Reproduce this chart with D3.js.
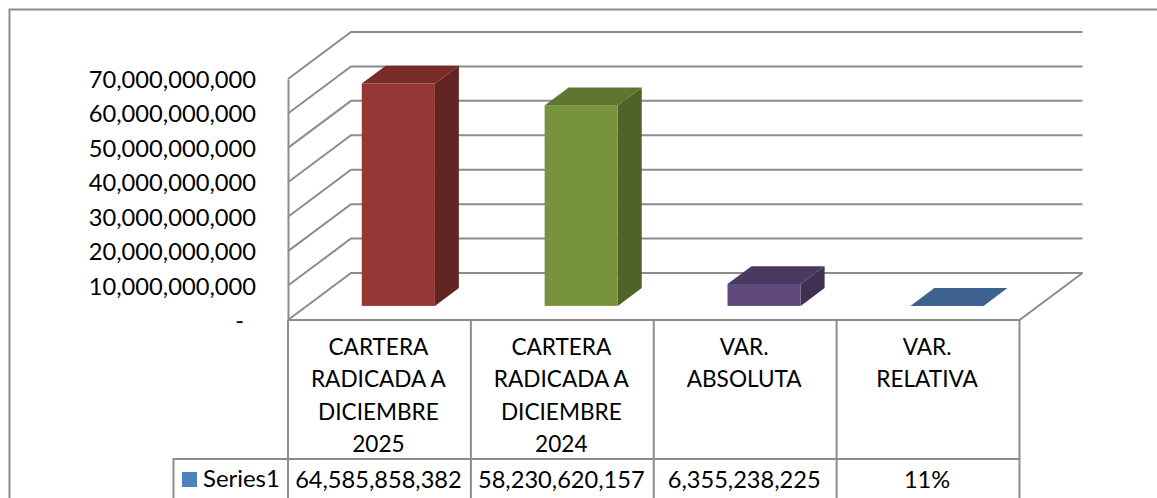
<!DOCTYPE html>
<html>
<head>
<meta charset="utf-8">
<title>Cartera radicada</title>
<script src="https://cdn.jsdelivr.net/npm/d3@7"></script>
<style>
    html, body { margin: 0; padding: 0; background: #fff; overflow: hidden; }
    text { font-family: Lato, "Open Sans", sans-serif; fill: #000; }
    .line { stroke: #8c8c8c; stroke-width: 2; fill: none; }
</style>
</head>
<body>
<div id="chart"></div>
<script>
var categories = [
    ["CARTERA", "RADICADA A", "DICIEMBRE", "2025"],
    ["CARTERA", "RADICADA A", "DICIEMBRE", "2024"],
    ["VAR.", "ABSOLUTA"],
    ["VAR.", "RELATIVA"]
];
var seriesName = "Series1";
var seriesValues = [64585858382, 58230620157, 6355238225, 0.11];
var valueLabels = ["64,585,858,382", "58,230,620,157", "6,355,238,225", "11%"];
var tickValues = [0, 10000000000, 20000000000, 30000000000, 40000000000, 50000000000, 60000000000, 70000000000];
var frontColors = ["#953735", "#77933c", "#604a7b", "#376092"];
var topColors = ["#772c2a", "#5f7530", "#4a3a60", "#3d6290"];
var sideColors = ["#632523", "#4f6228", "#403152", "#2c4d75"];

var width = 1157, height = 498;
var left = 288, right = 1019.5, base = 320, top70 = 79;

// the oblique depth of the 3D box, and where the bars sit inside it
var depth = { x: 63, y: -47 };
var barFront = 0.3, barBack = 0.68;

var svg = d3.select("#chart")
    .append("svg")
    .attr("width", width)
    .attr("height", height)
    .style("display", "block");

var x = d3.scaleBand()
    .domain(d3.range(categories.length))
    .range([left, right])
    .paddingInner(0.6)
    .paddingOuter(0.3);

var y = d3.scaleLinear()
    .domain([0, 70000000000])
    .range([base, top70]);

var step = x.step();
var edges = d3.range(categories.length + 1).map(function (i) { return left + i * step; });

function pts(list) {
    return list.map(function (p) { return p.join(","); }).join(" ");
}

// outer frame, runs off the right and bottom of the picture
svg.append("path")
    .attr("class", "line")
    .attr("d", "M9.5," + height + "V9.5H" + width);

/////////////////////////////////////////////////////////////////////
// walls and floor

var grid = svg.append("g");

// left wall diagonals + back wall horizontals
grid.selectAll(".wall")
    .data(tickValues)
    .enter()
    .append("path")
    .attr("class", "line wall")
    .attr("d", function (d) {
        return "M" + left + "," + y(d) + "L" + (left + depth.x) + "," + (y(d) + depth.y) + "H" + (right + depth.x);
    });

// floor front and right edges
grid.append("path")
    .attr("class", "line")
    .attr("d", "M" + left + "," + base + "H" + right + "L" + (right + depth.x) + "," + (base + depth.y));

/////////////////////////////////////////////////////////////////////
// bars

var bars = svg.selectAll(".bar")
    .data(seriesValues)
    .enter()
    .append("g")
    .attr("class", "bar");

var fx = depth.x * barFront, fy = depth.y * barFront;
var bx = depth.x * (barBack - barFront), by = depth.y * (barBack - barFront);

bars.append("polygon")
    .attr("fill", function (d, i) { return sideColors[i]; })
    .attr("points", function (d, i) {
        var xr = x(i) + x.bandwidth() + fx;
        return pts([[xr, y(d) + fy], [xr + bx, y(d) + fy + by], [xr + bx, base + fy + by], [xr, base + fy]]);
    });

bars.append("rect")
    .attr("fill", function (d, i) { return frontColors[i]; })
    .attr("x", function (d, i) { return x(i) + fx; })
    .attr("y", function (d) { return y(d) + fy; })
    .attr("width", x.bandwidth())
    .attr("height", function (d) { return base - y(d); });

bars.append("polygon")
    .attr("fill", function (d, i) { return topColors[i]; })
    .attr("points", function (d, i) {
        var xl = x(i) + fx, xr = xl + x.bandwidth(), yt = y(d) + fy;
        return pts([[xl, yt], [xl + bx, yt + by], [xr + bx, yt + by], [xr, yt]]);
    });

/////////////////////////////////////////////////////////////////////
// y axis

var yAxis = svg.append("g")
    .attr("transform", "translate(" + left + ",0)")
    .call(d3.axisLeft(y)
        .tickValues(tickValues)
        .tickSize(0)
        .tickPadding(32)
        .tickFormat(function (d) { return d === 0 ? "-" : d3.format(",")(d); }));

yAxis.select(".domain").attr("class", "line domain");
yAxis.selectAll("text")
    .attr("font-size", 23.7)
    .attr("dy", "0.36em")
    .attr("dx", function (d) { return d === 0 ? -12 : 0; })
    .style("font-family", "Lato, 'Open Sans', sans-serif")
    .style("fill", "#000");

/////////////////////////////////////////////////////////////////////
// data table

var rowY = 459;

svg.append("path")
    .attr("class", "line")
    .attr("d", "M173.5," + height + "V" + rowY + "H" + right);

svg.selectAll(".cell-line")
    .data(edges)
    .enter()
    .append("line")
    .attr("class", "line cell-line")
    .attr("x1", function (d) { return d; })
    .attr("x2", function (d) { return d; })
    .attr("y1", base)
    .attr("y2", height);

var heads = svg.selectAll(".head")
    .data(categories)
    .enter()
    .append("text")
    .attr("class", "head")
    .attr("text-anchor", "middle")
    .attr("font-size", 22.6);

heads.selectAll("tspan")
    .data(function (d, i) { return d.map(function (t) { return { t: t, i: i }; }); })
    .enter()
    .append("tspan")
    .attr("x", function (d) { return left + (d.i + 0.5) * step - 1; })
    .attr("y", function (d, j) { return 354.5 + j * 32.5; })
    .text(function (d) { return d.t; });

svg.selectAll(".val")
    .data(valueLabels)
    .enter()
    .append("text")
    .attr("class", "val")
    .attr("text-anchor", "middle")
    .attr("font-size", 23.6)
    .attr("x", function (d, i) { return left + (i + 0.5) * step - 1; })
    .attr("y", 488)
    .text(function (d) { return d; });

// legend key
svg.append("rect")
    .attr("x", 182)
    .attr("y", 472)
    .attr("width", 15)
    .attr("height", 15)
    .attr("fill", "#4f81bd");

svg.append("text")
    .attr("x", 203)
    .attr("y", 487)
    .attr("font-size", 23.9)
    .text(seriesName);
</script>
</body>
</html>
